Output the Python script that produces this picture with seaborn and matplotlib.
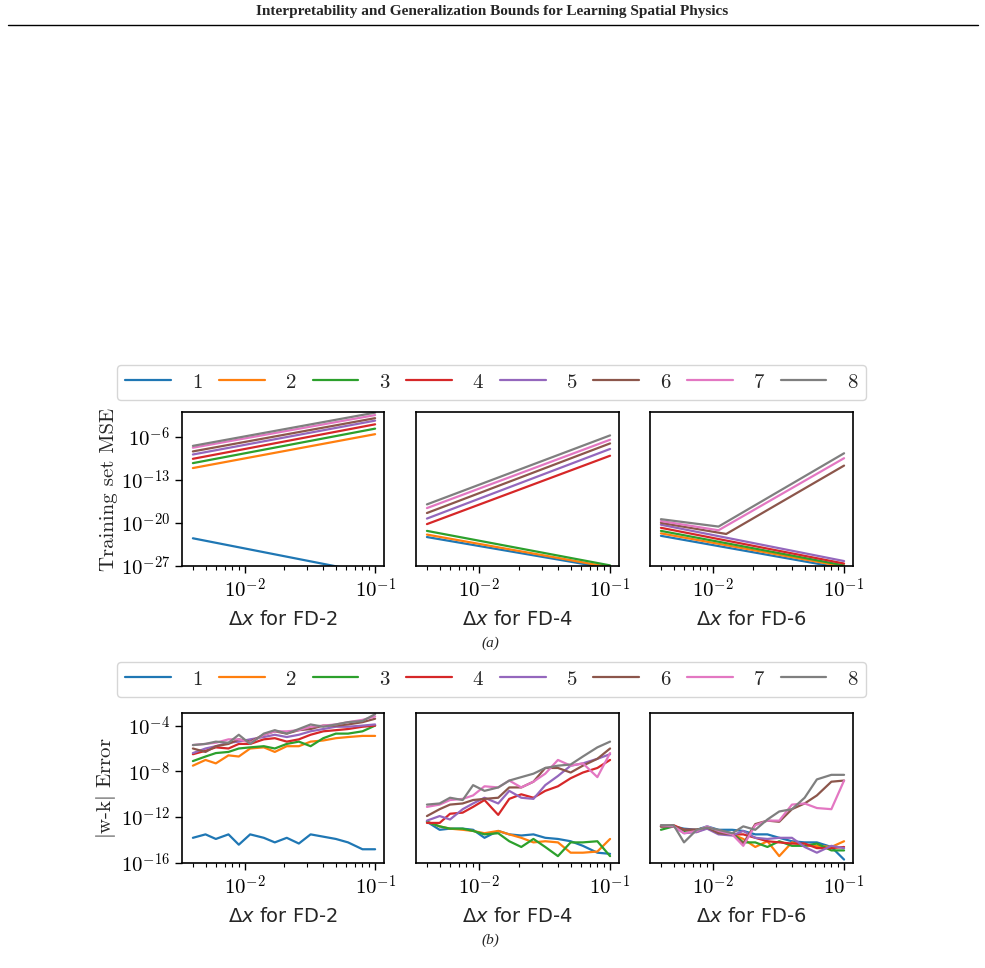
import numpy as np
import pandas as pd
import matplotlib
matplotlib.use("Agg")
import matplotlib.pyplot as plt
import matplotlib.ticker as mticker
import seaborn as sns

# --- data (log10 values) ---
labels = ["1", "2", "3", "4", "5", "6", "7", "8"]
schemes = ["FD-2", "FD-4", "FD-6"]

# (a) training set MSE: straight lines on log-log, kinked for FD-6 orders 6-8
mse_x = {
    "FD-2": [[0.004, 0.1]] * 8,
    "FD-4": [[0.004, 0.1]] * 8,
    "FD-6": [[0.004, 0.1]] * 5 + [[0.004, 0.0126, 0.1], [0.004, 0.011, 0.1], [0.004, 0.011, 0.1]],
}
mse_log = {
    "FD-2": [[-22.5, -28.3], [-11.1, -5.6], [-10.3, -4.7], [-9.6, -4.0],
             [-8.9, -3.4], [-8.4, -3.0], [-7.8, -2.5], [-7.5, -2.1]],
    "FD-4": [[-22.3, -27.4], [-21.9, -27.2], [-21.3, -26.9], [-20.2, -9.1],
             [-19.3, -8.0], [-18.4, -7.1], [-17.6, -6.5], [-17.0, -5.8]],
    "FD-6": [[-22.1, -27.4], [-21.7, -27.1], [-21.3, -26.9], [-20.8, -26.6],
             [-20.3, -26.2], [-20.0, -21.8, -10.7], [-19.7, -21.2, -9.5],
             [-19.4, -20.6, -8.7]],
}

# (b) |w-k| error
dx = [0.004, 0.005, 0.006, 0.0075, 0.009, 0.011, 0.014, 0.017,
      0.021, 0.026, 0.032, 0.04, 0.05, 0.062, 0.08, 0.1]
err_log = {
    "FD-2": [
        [-13.8, -13.5, -13.9, -13.5, -14.4, -13.5, -13.8, -14.2, -13.8, -14.3, -13.5, -13.7, -13.9, -14.2, -14.8, -14.8],
        [-7.5, -7.0, -7.3, -6.6, -6.7, -6.0, -5.9, -6.3, -5.8, -5.8, -5.4, -5.3, -5.1, -5.0, -4.9, -4.9],
        [-7.1, -6.7, -6.4, -6.3, -6.0, -5.9, -5.8, -6.0, -5.6, -5.4, -5.8, -5.1, -4.7, -4.7, -4.5, -4.0],
        [-6.5, -6.2, -5.9, -6.0, -5.6, -5.6, -5.2, -5.1, -5.4, -5.2, -4.8, -4.5, -4.4, -4.3, -4.1, -4.0],
        [-6.4, -6.0, -5.8, -5.5, -5.4, -5.2, -5.0, -4.8, -5.0, -4.8, -4.5, -4.3, -4.1, -4.1, -4.0, -3.9],
        [-6.0, -6.3, -5.8, -5.6, -5.2, -5.4, -4.8, -4.5, -4.7, -4.4, -4.3, -4.0, -4.0, -3.9, -3.7, -3.4],
        [-5.7, -5.6, -5.5, -5.2, -5.2, -5.5, -4.8, -4.5, -4.5, -4.4, -4.1, -4.0, -3.9, -3.7, -3.5, -3.2],
        [-5.7, -5.6, -5.4, -5.5, -4.8, -5.6, -4.7, -4.4, -4.7, -4.3, -3.9, -4.1, -3.9, -3.7, -3.6, -3.0],
    ],
    "FD-4": [
        [-12.4, -13.1, -13.0, -13.0, -13.1, -13.8, -13.2, -13.5, -13.6, -13.5, -13.8, -13.9, -14.1, -14.5, -15.1, -15.2],
        [-12.4, -12.8, -13.0, -13.1, -13.2, -13.4, -13.2, -13.5, -13.8, -14.2, -14.1, -14.2, -15.1, -15.1, -15.0, -13.9],
        [-12.4, -12.8, -13.0, -13.0, -13.2, -13.5, -13.4, -14.1, -14.6, -13.9, -14.6, -15.4, -14.2, -14.2, -14.1, -15.4],
        [-12.5, -12.5, -11.7, -11.6, -11.1, -10.5, -11.8, -10.4, -10.0, -10.3, -9.7, -9.3, -8.6, -8.1, -7.7, -7.0],
        [-12.3, -11.9, -12.2, -11.3, -10.8, -10.3, -10.8, -9.7, -10.3, -10.4, -9.2, -8.4, -7.5, -7.3, -6.9, -6.5],
        [-11.9, -11.3, -10.9, -10.8, -10.5, -10.4, -10.3, -9.4, -9.4, -8.9, -7.7, -7.7, -8.1, -7.5, -6.9, -6.0],
        [-11.1, -10.9, -10.5, -10.4, -10.1, -9.3, -9.4, -8.8, -9.4, -8.9, -8.2, -7.0, -7.5, -7.3, -8.5, -6.4],
        [-10.9, -10.8, -10.3, -10.5, -9.2, -9.7, -9.4, -8.8, -8.5, -8.2, -7.7, -7.5, -7.4, -6.7, -5.9, -5.4],
    ],
    "FD-6": [
        [-12.8, -12.8, -13.0, -13.1, -12.8, -13.1, -13.1, -13.2, -13.5, -13.5, -13.8, -14.1, -14.2, -14.2, -14.6, -15.7],
        [-12.8, -12.8, -13.1, -13.3, -12.9, -13.4, -13.5, -13.9, -14.6, -14.1, -15.4, -14.2, -14.5, -14.5, -14.6, -14.1],
        [-13.1, -12.8, -13.2, -13.1, -12.9, -13.2, -13.4, -14.2, -14.2, -14.6, -14.1, -14.5, -14.5, -14.3, -14.9, -14.9],
        [-12.8, -12.7, -13.1, -13.1, -13.0, -13.2, -13.5, -13.5, -13.8, -14.1, -14.2, -14.3, -14.3, -14.7, -14.7, -14.6],
        [-12.8, -12.8, -13.4, -13.3, -13.0, -13.5, -13.6, -13.2, -13.8, -13.9, -13.8, -13.8, -14.6, -15.1, -14.5, -14.7],
        [-12.8, -12.8, -13.1, -13.1, -12.9, -13.4, -13.5, -14.3, -12.6, -12.3, -12.4, -11.3, -10.8, -10.1, -8.9, -8.8],
        [-12.7, -12.8, -13.4, -13.2, -12.8, -13.2, -13.5, -14.5, -12.7, -12.3, -12.3, -10.9, -10.8, -11.2, -11.3, -8.8],
        [-12.7, -12.7, -14.2, -13.1, -12.9, -13.1, -13.4, -12.8, -13.1, -12.2, -11.5, -11.3, -10.3, -8.7, -8.3, -8.3],
    ],
}

# --- style ---
sns.set_theme(style="ticks")
plt.rcParams["font.family"] = ["DejaVu Sans"]
plt.rcParams["mathtext.fontset"] = "cm"
plt.rcParams["axes.edgecolor"] = "black"
plt.rcParams["axes.linewidth"] = 1.2
plt.rcParams["xtick.color"] = "black"
plt.rcParams["ytick.color"] = "black"
palette = sns.color_palette("tab10", 8)

W, H = 985, 968
fig = plt.figure(figsize=(W / 100, H / 100), dpi=100)


def box(x0, y0, x1, y1):
    return [x0 / W, 1 - y1 / H, (x1 - x0) / W, (y1 - y0) / H]


cols = [(182, 384), (416, 619), (650, 853)]
pow_fmt = mticker.FuncFormatter(lambda v, _: r"$10^{%d}$" % round(np.log10(v)))


def style_ax(ax, first, yticks, ylim):
    ax.set_xscale("log")
    ax.set_yscale("log")
    ax.set_xlim(0.0033, 0.117)
    ax.set_ylim(*ylim)
    ax.yaxis.set_major_locator(mticker.FixedLocator(yticks))
    ax.yaxis.set_minor_locator(mticker.NullLocator())
    ax.xaxis.set_major_locator(mticker.FixedLocator([0.01, 0.1]))
    ax.yaxis.set_major_formatter(pow_fmt)
    ax.xaxis.set_major_formatter(pow_fmt)
    ax.tick_params(labelsize=15, length=5, width=1)
    ax.tick_params(which="minor", length=3, width=0.8)
    ax.set_ylabel("")
    if not first:
        ax.set_yticklabels([])
        ax.tick_params(axis="y", length=0)
    for s in ax.spines.values():
        s.set_visible(True)


def xlab(ax, name):
    ax.set_xlabel(r"$\Delta x$ for " + name, fontsize=14, math_fontfamily="dejavusans", labelpad=6)


# (a)
for i, name in enumerate(schemes):
    ax = fig.add_axes(box(cols[i][0], 412, cols[i][1], 566))
    for k in range(8):
        d = pd.DataFrame({"x": mse_x[name][k], "y": 10.0 ** np.array(mse_log[name][k])})
        sns.lineplot(data=d, x="x", y="y", ax=ax, color=palette[k], lw=1.6,
                     estimator=None, sort=False, legend=False)
    style_ax(ax, i == 0, [1e-27, 1e-20, 1e-13, 1e-6], (1e-27, 10 ** -2.0))
    xlab(ax, name)
    if i == 0:
        ax.set_ylabel("Training set MSE", fontsize=15, fontfamily="cmr10", labelpad=2)

handles = [plt.Line2D([], [], color=palette[k], lw=1.6) for k in range(8)]

# (b)
for i, name in enumerate(schemes):
    ax = fig.add_axes(box(cols[i][0], 713, cols[i][1], 863))
    for k in range(8):
        d = pd.DataFrame({"x": dx, "y": 10.0 ** np.array(err_log[name][k])})
        sns.lineplot(data=d, x="x", y="y", ax=ax, color=palette[k], lw=1.6,
                     estimator=None, sort=False, legend=False)
    style_ax(ax, i == 0, [1e-16, 1e-12, 1e-8, 1e-4], (1e-16, 10 ** -2.9))
    xlab(ax, name)
    if i == 0:
        ax.set_ylabel(r"$|$w-k$|$ Error", fontsize=15, fontfamily="cmr10", labelpad=2)

for y0, y1 in [(369, 400), (666, 697)]:
    fig.legend(handles, labels, loc="lower left", ncol=8, mode="expand",
               bbox_to_anchor=(117 / W, 1 - y1 / H, 749 / W, (y1 - y0) / H),
               prop={"family": "cmr10", "size": 15}, handlelength=2.2, handletextpad=1.0,
               borderaxespad=0, frameon=True, fancybox=True, edgecolor="#cccccc")

fig.text(0.5, 1 - 12 / H, "Interpretability and Generalization Bounds for Learning Spatial Physics",
         ha="center", va="center", fontsize=11, fontweight="bold", fontfamily="Liberation Serif")
fig.add_artist(plt.Line2D([8 / W, 978 / W], [1 - 25 / H, 1 - 25 / H], color="black", lw=1))
fig.text(490 / W, 1 - 643 / H, "(a)", ha="center", va="center", fontsize=11,
         fontstyle="italic", fontfamily="Liberation Serif")
fig.text(490 / W, 1 - 940 / H, "(b)", ha="center", va="center", fontsize=11,
         fontstyle="italic", fontfamily="Liberation Serif")

fig.savefig("out.png", dpi=100)
